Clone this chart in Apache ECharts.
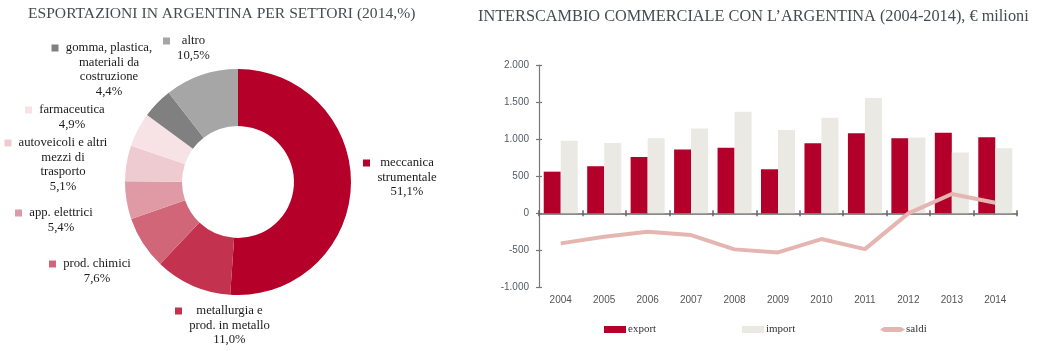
<!DOCTYPE html>
<html>
<head>
<meta charset="utf-8">
<script src="https://cdn.jsdelivr.net/npm/echarts@6/dist/echarts.min.js"></script>
<style>html,body{margin:0;padding:0;background:#fff}#c{width:1050px;height:351px}</style>
</head>
<body>
<div id="c"></div>
<script>
// ---- Data ----
const sectorNames = ['meccanica strumentale', 'metallurgia e prod. in metallo', 'prod. chimici', 'app. elettrici', 'autoveicoli e altri mezzi di trasporto', 'farmaceutica', 'gomma, plastica, materiali da costruzione', 'altro'];
const sectorLines = [['meccanica', 'strumentale'], ['metallurgia e', 'prod. in metallo'], ['prod. chimici'], ['app. elettrici'], ['autoveicoli e altri', 'mezzi di', 'trasporto'], ['farmaceutica'], ['gomma, plastica,', 'materiali da', 'costruzione'], ['altro']];
const sectorShares = [51.1, 11.0, 7.6, 5.4, 5.1, 4.9, 4.4, 10.5];

const years = ['2004', '2005', '2006', '2007', '2008', '2009', '2010', '2011', '2012', '2013', '2014'];
const exportVals = [562, 635, 761, 860, 883, 594, 946, 1081, 1013, 1085, 1027];
const importVals = [977, 950, 1013, 1144, 1369, 1122, 1288, 1554, 1022, 819, 878];
const saldiVals = [-405, -315, -248, -293, -486, -527, -347, -482, 0, 261, 143];
const yTicks = { min: -1000, max: 2000, interval: 500 };

// ---- Styles ----
const sliceColors = ['#B5002A', '#C3324F', '#D16679', '#E09AA5', '#EECBD1', '#F7E3E6', '#808080', '#A6A6A6'];
// label anchor: text block centre x, first line centre y
const labelAnchor = [[407, 163], [229.5, 311], [97, 264], [61, 213], [63, 143], [72, 110], [109, 48], [193.5, 41]];
const serif = 'Liberation Serif';
const lblFont = 12.7, lblLH = 14.5, sqW = 7, sqGap = 6.5;

const ctx = document.createElement('canvas').getContext('2d');
ctx.font = lblFont + 'px "' + serif + '"';
function fmtPct(v) { return v.toFixed(1).replace('.', ',') + '%'; }
const blockW = sectorLines.map((ls, i) => Math.ceil(Math.max(...ls.concat([fmtPct(sectorShares[i])]).map(t => ctx.measureText(t).width))) + 1);

const rich = {
  sp: { width: sqW + sqGap, height: lblLH, lineHeight: lblLH }
};
sliceColors.forEach((c, i) => {
  rich['sq' + i] = { width: sqW, height: sqW, backgroundColor: c, align: 'left', lineHeight: lblLH };
  rich['g' + i] = { width: sqGap, height: lblLH, align: 'left', lineHeight: lblLH };
  rich['t' + i] = { width: blockW[i], align: 'center', fontSize: lblFont, fontFamily: serif, color: '#1a1a1a', lineHeight: lblLH };
});

const pieData = sectorNames.map((n, i) => ({
  name: n, value: sectorShares[i], itemStyle: { color: sliceColors[i] },
  label: { width: sqW + sqGap + blockW[i] }
}));

function fmtNum(v) {
  const s = Math.abs(v).toString().replace(/\B(?=(\d{3})+(?!\d))/g, '.');
  return (v < 0 ? '-' : '') + s;
}

const gridLeft = 539, gridRight = 33;
const legendText = { fontFamily: serif, fontSize: 11, color: '#333' };
const chart = echarts.init(document.getElementById('c'));
chart.setOption({
  animation: false,
  title: [
    { text: 'ESPORTAZIONI IN ARGENTINA PER SETTORI (2014,%)', left: 28, top: 6, padding: 0,
      textStyle: { fontFamily: serif, fontSize: 15.6, fontWeight: 'normal', color: '#474b50' } },
    { text: 'INTERSCAMBIO COMMERCIALE CON L\u2019ARGENTINA (2004-2014), \u20ac milioni', left: 478, top: 9, padding: 0,
      textStyle: { fontFamily: serif, fontSize: 16.3, fontWeight: 'normal', color: '#474b50' } }
  ],
  legend: [
    { data: [{ name: 'export', icon: 'rect' }], left: 604, top: 324, padding: 0, itemWidth: 22, itemHeight: 7,
      textStyle: Object.assign({ padding: [0, 0, 0, -3] }, legendText) },
    { data: [{ name: 'import', icon: 'rect' }], left: 742, top: 324, padding: 0, itemWidth: 22, itemHeight: 7,
      textStyle: Object.assign({ padding: [0, 0, 0, -3] }, legendText) },
    { data: [{ name: 'saldi', icon: 'path://M0,3.5 L4,1 L21,1 L25,3.5 L21,6 L4,6 Z' }], left: 880, top: 324, padding: 0, itemWidth: 25, itemHeight: 7,
      textStyle: Object.assign({ padding: [0, 0, 0, -4] }, legendText) }
  ],
  grid: { left: gridLeft, right: gridRight, top: 65, bottom: 351 - 287.5, outerBoundsMode: 'none', containLabel: false },
  xAxis: [
    { type: 'category', data: years, position: 'bottom',
      axisLine: { show: true, onZero: true, lineStyle: { color: '#666', width: 1.5 } },
      axisTick: { show: true, length: 3, lineStyle: { color: '#666', width: 1.5 } },
      axisLabel: { margin: 8, fontFamily: 'Liberation Sans', fontSize: 10, color: '#555' } },
    { type: 'category', data: years, position: 'top',
      axisLine: { show: false, onZero: true },
      axisTick: { show: true, length: 3, lineStyle: { color: '#666', width: 1.5 } },
      axisLabel: { show: false } }
  ],
  yAxis: [
    { type: 'value', min: yTicks.min, max: yTicks.max, interval: yTicks.interval, position: 'left',
      axisLine: { show: true, lineStyle: { color: '#777', width: 1.2 } },
      axisTick: { show: true, length: 3, lineStyle: { color: '#777', width: 1.2 } },
      splitLine: { show: false },
      axisLabel: { formatter: fmtNum, margin: 10, fontFamily: 'Liberation Sans', fontSize: 10, color: '#555a62' } },
    { type: 'value', min: yTicks.min, max: yTicks.max, interval: yTicks.interval, position: 'right',
      offset: -(1050 - gridLeft - gridRight),
      axisLine: { show: false },
      axisTick: { show: true, length: 3, lineStyle: { color: '#777', width: 1.2 } },
      splitLine: { show: false }, axisLabel: { show: false } }
  ],
  series: [
    { name: 'export', type: 'bar', data: exportVals, barWidth: 17, barGap: '0%', itemStyle: { color: '#B3002A' }, z: 1 },
    { name: 'import', type: 'bar', data: importVals, barWidth: 17, barGap: '0%', itemStyle: { color: '#EAE9E4' }, z: 1 },
    { name: 'saldi', type: 'line', data: saldiVals, showSymbol: false, symbol: 'none', z: 3,
      lineStyle: { color: '#E5B6B1', width: 4 }, itemStyle: { color: '#E5B6B1' } },
    { name: 'settori', type: 'pie', center: [238, 182], radius: [56, 113], startAngle: 90, clockwise: true,
      data: pieData, silent: true,
      label: {
        show: true, position: 'outside', rich: rich, overflow: 'none', edgeDistance: 0, bleedMargin: 0,
        formatter: p => {
          const i = p.dataIndex;
          const lines = sectorLines[i].concat([fmtPct(sectorShares[i])]);
          return lines.map((t, k) => (k === 0 ? '{sq' + i + '|}{g' + i + '|}' : '{sp|}') + '{t' + i + '|' + t + '}').join('\n');
        }
      },
      labelLine: { show: false },
      labelLayout: p => {
        const i = p.dataIndex;
        return { x: labelAnchor[i][0] - blockW[i] / 2 - sqW - sqGap, y: labelAnchor[i][1] - lblLH / 2, align: 'left', verticalAlign: 'top' };
      }
    }
  ]
});
</script>
</body>
</html>
